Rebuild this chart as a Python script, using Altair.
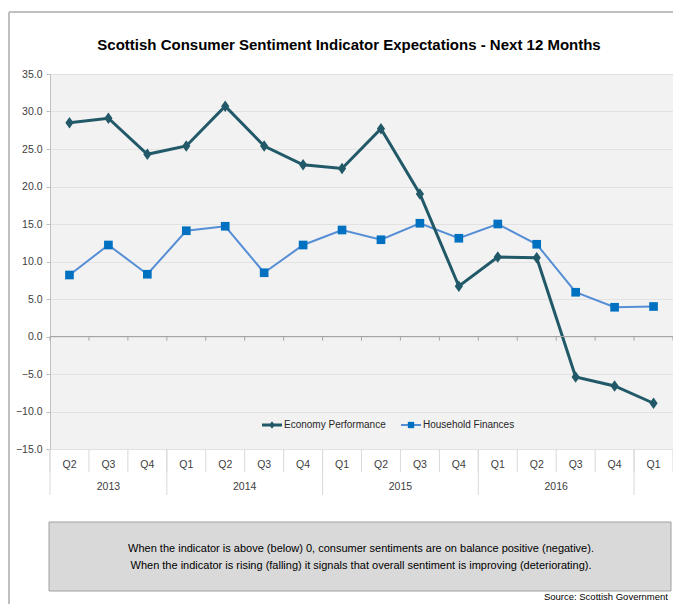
import altair as alt
import pandas as pd

TITLE = "Scottish Consumer Sentiment Indicator Expectations - Next 12 Months"
quarters = ["Q2", "Q3", "Q4", "Q1", "Q2", "Q3", "Q4", "Q1", "Q2", "Q3", "Q4", "Q1", "Q2", "Q3", "Q4", "Q1"]
years = ["2013", "2014", "2015", "2016"]
year_start = [1, 4, 8, 12]
year_end = [3, 7, 11, 15]
economy = [28.5, 29.1, 24.3, 25.4, 30.7, 25.4, 22.9, 22.4, 27.7, 19.0, 6.7, 10.6, 10.5, -5.4, -6.6, -8.9]
household = [8.2, 12.2, 8.3, 14.1, 14.7, 8.5, 12.2, 14.2, 12.9, 15.1, 13.1, 15.0, 12.3, 5.9, 3.9, 4.0]
series_names = ["Economy Performance", "Household Finances"]
notes = [
    "When the indicator is above (below) 0, consumer sentiments are on balance positive (negative).",
    "When the indicator is rising (falling) it signals that overall sentiment is improving (deteriorating).",
]
SOURCE = "Source: Scottish Government"

FONT = "Liberation Sans, Arial, sans-serif"
ECO = "#215968"
HH_LINE = "#558ed5"
HH_PT = "#0070c0"
DIAMOND = "M0,-1L0.72,0L0,1L-0.72,0Z"

idx = list(range(1, len(quarters) + 1))
df_e = pd.DataFrame({"idx": idx, "v": economy})
df_h = pd.DataFrame({"idx": idx, "v": household})

xs = alt.Scale(domain=[0.5, len(quarters) + 0.5], nice=False, zero=False)
ys = alt.Scale(domain=[-15, 35], nice=False)

X = alt.X("idx:Q", scale=xs, axis=None)
YAX = alt.Axis(
    values=list(range(-15, 40, 5)), format=".1f", title=None,
    labelFont=FONT, labelFontSize=10.5, labelColor="#404040", labelPadding=4,
    domainColor="#bfbfbf", tickColor="#bfbfbf", tickSize=4,
    gridColor="#e2e2e2", grid=True)
Y = alt.Y("v:Q", scale=ys, axis=YAX)

base_e = alt.Chart(df_e)
base_h = alt.Chart(df_h)

eco_line = base_e.mark_line(color=ECO, strokeWidth=3).encode(x=X, y=Y)
eco_pts = base_e.mark_point(shape=DIAMOND, size=130, filled=True, opacity=1, color=ECO).encode(x=X, y=Y)
hh_line = base_h.mark_line(color=HH_LINE, strokeWidth=2).encode(x=X, y=Y)
hh_pts = base_h.mark_point(shape="square", size=75, filled=True, opacity=1, color=HH_PT).encode(x=X, y=Y)

# zero line with small ticks
nb = len(quarters) + 1
bounds = pd.DataFrame({"b": [i + 0.5 for i in range(0, nb)], "v": [0] * nb, "v2": [-0.55] * nb})
zero = alt.Chart(bounds.head(1)).mark_rule(color="#a6a6a6", strokeWidth=1).encode(y=Y)
zero_ticks = alt.Chart(bounds).mark_rule(color="#a6a6a6").encode(
    x=alt.X("b:Q", scale=xs, axis=None), y=Y, y2="v2:Q")

# category axis below plot
q_sep = alt.Chart(bounds).mark_rule(color="#d9d9d9").encode(
    x=alt.X("b:Q", scale=xs, axis=None), y=alt.value(375), y2=alt.value(398))
ybounds = pd.DataFrame({"b": [s - 0.5 for s in year_start] + [year_end[-1] + 0.5]})
y_sep = alt.Chart(ybounds).mark_rule(color="#d9d9d9").encode(
    x=alt.X("b:Q", scale=xs, axis=None), y=alt.value(375), y2=alt.value(421))
q_lab = alt.Chart(pd.DataFrame({"idx": idx, "q": quarters})).mark_text(
    font=FONT, fontSize=10.5, color="#404040", baseline="middle").encode(
    x=alt.X("idx:Q", scale=xs, axis=None), y=alt.value(391), text="q:N")
y_lab = alt.Chart(pd.DataFrame({"m": [(a + b) / 2 for a, b in zip(year_start, year_end)], "yr": years})).mark_text(
    font=FONT, fontSize=10.5, color="#404040", baseline="middle").encode(
    x=alt.X("m:Q", scale=xs, axis=None), y=alt.value(413), text="yr:N")

one = pd.DataFrame({"a": [0]})

# legend
leg = []
leg.append(alt.Chart(one).mark_rule(color=ECO, strokeWidth=3).encode(
    x=alt.value(212), x2=alt.value(232), y=alt.value(351)))
leg.append(alt.Chart(one).mark_point(shape=DIAMOND, size=60, filled=True, opacity=1, color=ECO).encode(
    x=alt.value(222), y=alt.value(351)))
leg.append(alt.Chart(pd.DataFrame({"t": [series_names[0]]})).mark_text(
    font=FONT, fontSize=10, color="#262626", align="left", baseline="middle").encode(
    x=alt.value(234), y=alt.value(351), text="t:N"))
leg.append(alt.Chart(one).mark_rule(color=HH_LINE, strokeWidth=2).encode(
    x=alt.value(351), x2=alt.value(371), y=alt.value(351)))
leg.append(alt.Chart(one).mark_point(shape="square", size=40, filled=True, opacity=1, color=HH_PT).encode(
    x=alt.value(361), y=alt.value(351)))
leg.append(alt.Chart(pd.DataFrame({"t": [series_names[1]]})).mark_text(
    font=FONT, fontSize=10, color="#262626", align="left", baseline="middle").encode(
    x=alt.value(373), y=alt.value(351), text="t:N"))

# title
title = alt.Chart(pd.DataFrame({"t": [TITLE]})).mark_text(
    font=FONT, fontSize=15, fontWeight="bold", color="#000000", baseline="middle").encode(
    x=alt.value(299), y=alt.value(-29), text="t:N")

# outer frame
frame_top = alt.Chart(one).mark_rule(color="#c0c0c0", strokeWidth=2).encode(
    x=alt.value(-41), x2=alt.value(640), y=alt.value(-62))
frame_left = alt.Chart(one).mark_rule(color="#c0c0c0", strokeWidth=2).encode(
    x=alt.value(-41), y=alt.value(-62), y2=alt.value(540))

# note box
box = alt.Chart(one).mark_rect(fill="#d9d9d9", stroke="#a0a0a0", strokeWidth=1).encode(
    x=alt.value(-1), x2=alt.value(621), y=alt.value(448), y2=alt.value(517))
note1 = alt.Chart(pd.DataFrame({"t": [notes[0]]})).mark_text(
    font=FONT, fontSize=11, color="#000000", baseline="middle").encode(
    x=alt.value(311), y=alt.value(475), text="t:N")
note2 = alt.Chart(pd.DataFrame({"t": [notes[1]]})).mark_text(
    font=FONT, fontSize=11, color="#000000", baseline="middle").encode(
    x=alt.value(311), y=alt.value(492), text="t:N")
source = alt.Chart(pd.DataFrame({"t": [SOURCE]})).mark_text(
    font=FONT, fontSize=9.5, color="#000000", align="right", baseline="middle").encode(
    x=alt.value(618), y=alt.value(523), text="t:N")

chart = alt.layer(
    hh_line, eco_line, hh_pts, eco_pts,
    frame_top, frame_left, zero, zero_ticks, q_sep, y_sep, q_lab, y_lab,
    *leg, title, box, note1, note2, source
).properties(
    width=623, height=375,
    autosize=alt.AutoSizeParams(type="none"),
    padding={"left": 42, "top": 66, "right": 0, "bottom": 155},
    background="white",
).configure_view(fill="#f2f2f2", stroke=None)

chart.save("out.html", embed_options={"renderer": "svg", "actions": False})
